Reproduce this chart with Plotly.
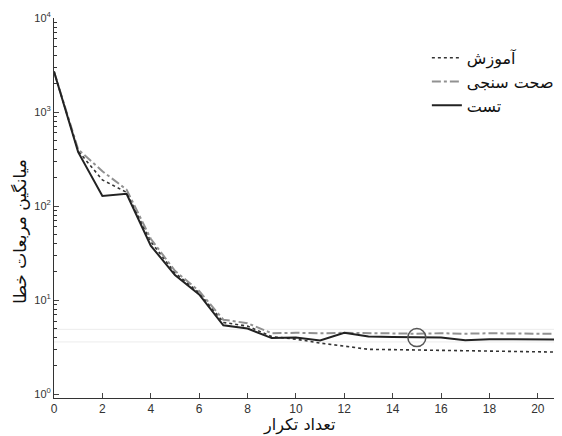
import plotly.graph_objects as go

iterations = list(range(22))
train = [2700, 385, 190, 140, 42, 19.5, 12.0, 5.8, 5.3, 4.1, 3.85, 3.5, 3.25, 3.0, 2.98, 2.95, 2.95, 2.9, 2.88, 2.85, 2.8, 2.8]
valid = [2700, 400, 235, 150, 45, 20.5, 12.5, 6.2, 5.7, 4.45, 4.5, 4.45, 4.5, 4.45, 4.4, 4.4, 4.45, 4.4, 4.45, 4.4, 4.4, 4.4]
test = [2700, 375, 128, 135, 38, 18.5, 11.5, 5.4, 5.0, 3.95, 4.0, 3.72, 4.5, 4.1, 4.05, 4.0, 4.0, 3.75, 3.85, 3.85, 3.8, 3.8]
best_iter = 15
best_val = 4.0
guide_levels = [4.9, 3.6]

names = ["آموزش", "صحت سنجی", "تست"]
x_title = "تعداد تکرار"
y_title = "میانگین مربعات خطا"
ytick_vals = [1, 10, 100, 1000, 10000]
ytick_text = ["10<sup>0</sup>", "10<sup>1</sup>", "10<sup>2</sup>", "10<sup>3</sup>", "10<sup>4</sup>"]
minor_vals = [m * 10 ** d for d in range(4) for m in range(2, 10)]

fig = go.Figure()
for lv in guide_levels:
    fig.add_trace(go.Scatter(x=[0, 21], y=[lv, lv], mode="lines",
                             line=dict(color="#ececec", width=1), showlegend=False, hoverinfo="skip"))
fig.add_trace(go.Scatter(x=iterations, y=train, mode="lines", name=names[0],
                         line=dict(color="#333333", width=1.6, dash="dot")))
fig.add_trace(go.Scatter(x=iterations, y=valid, mode="lines", name=names[1],
                         line=dict(color="#919191", width=2, dash="dashdot")))
fig.add_trace(go.Scatter(x=iterations, y=test, mode="lines", name=names[2],
                         line=dict(color="#222222", width=2)))
fig.add_trace(go.Scatter(x=[best_iter], y=[best_val], mode="markers", showlegend=False,
                         marker=dict(size=18, color="rgba(0,0,0,0)",
                                     line=dict(color="#555555", width=1.5))))

fig.add_annotation(text=x_title, xref="paper", yref="paper", x=0.484, y=-0.072,
                   xanchor="center", yanchor="middle", showarrow=False,
                   font=dict(family="DejaVu Sans", size=16, color="#111"))
fig.add_annotation(text=y_title, xref="paper", yref="paper", x=-0.067, y=0.44,
                   xanchor="center", yanchor="middle", showarrow=False, textangle=-90,
                   font=dict(family="DejaVu Sans", size=17, color="#111"))

fig.update_layout(
    template="none",
    width=554, height=428,
    margin=dict(l=46, r=0, t=10, b=38, autoexpand=False),
    plot_bgcolor="white", paper_bgcolor="white",
    font=dict(family="Liberation Sans, Arial", size=12, color="#222"),
    showlegend=True,
    legend=dict(x=0.734, y=0.94, xanchor="left", yanchor="top",
                bgcolor="rgba(255,255,255,0)", tracegroupgap=0,
                font=dict(family="DejaVu Sans", size=16, color="#111"),
                itemwidth=30),
    xaxis=dict(range=[0, 21], dtick=2, tick0=0, ticks="inside", ticklen=5, automargin=False,
               showline=True, linecolor="#333", linewidth=1, showgrid=False, zeroline=False,
               tickfont=dict(size=12, color="#333")),
    yaxis=dict(type="log", range=[-0.04, 4], tickmode="array", tickvals=ytick_vals,
               ticktext=ytick_text, ticks="inside", ticklen=5, automargin=False,
               showline=True, linecolor="#333", linewidth=1, showgrid=False, zeroline=False,
               tickfont=dict(size=11, color="#333"),
               minor=dict(tickmode="array", tickvals=minor_vals, ticks="inside", ticklen=3,
                          tickcolor="#333", showgrid=False)),
)

fig.write_html("out.html")
